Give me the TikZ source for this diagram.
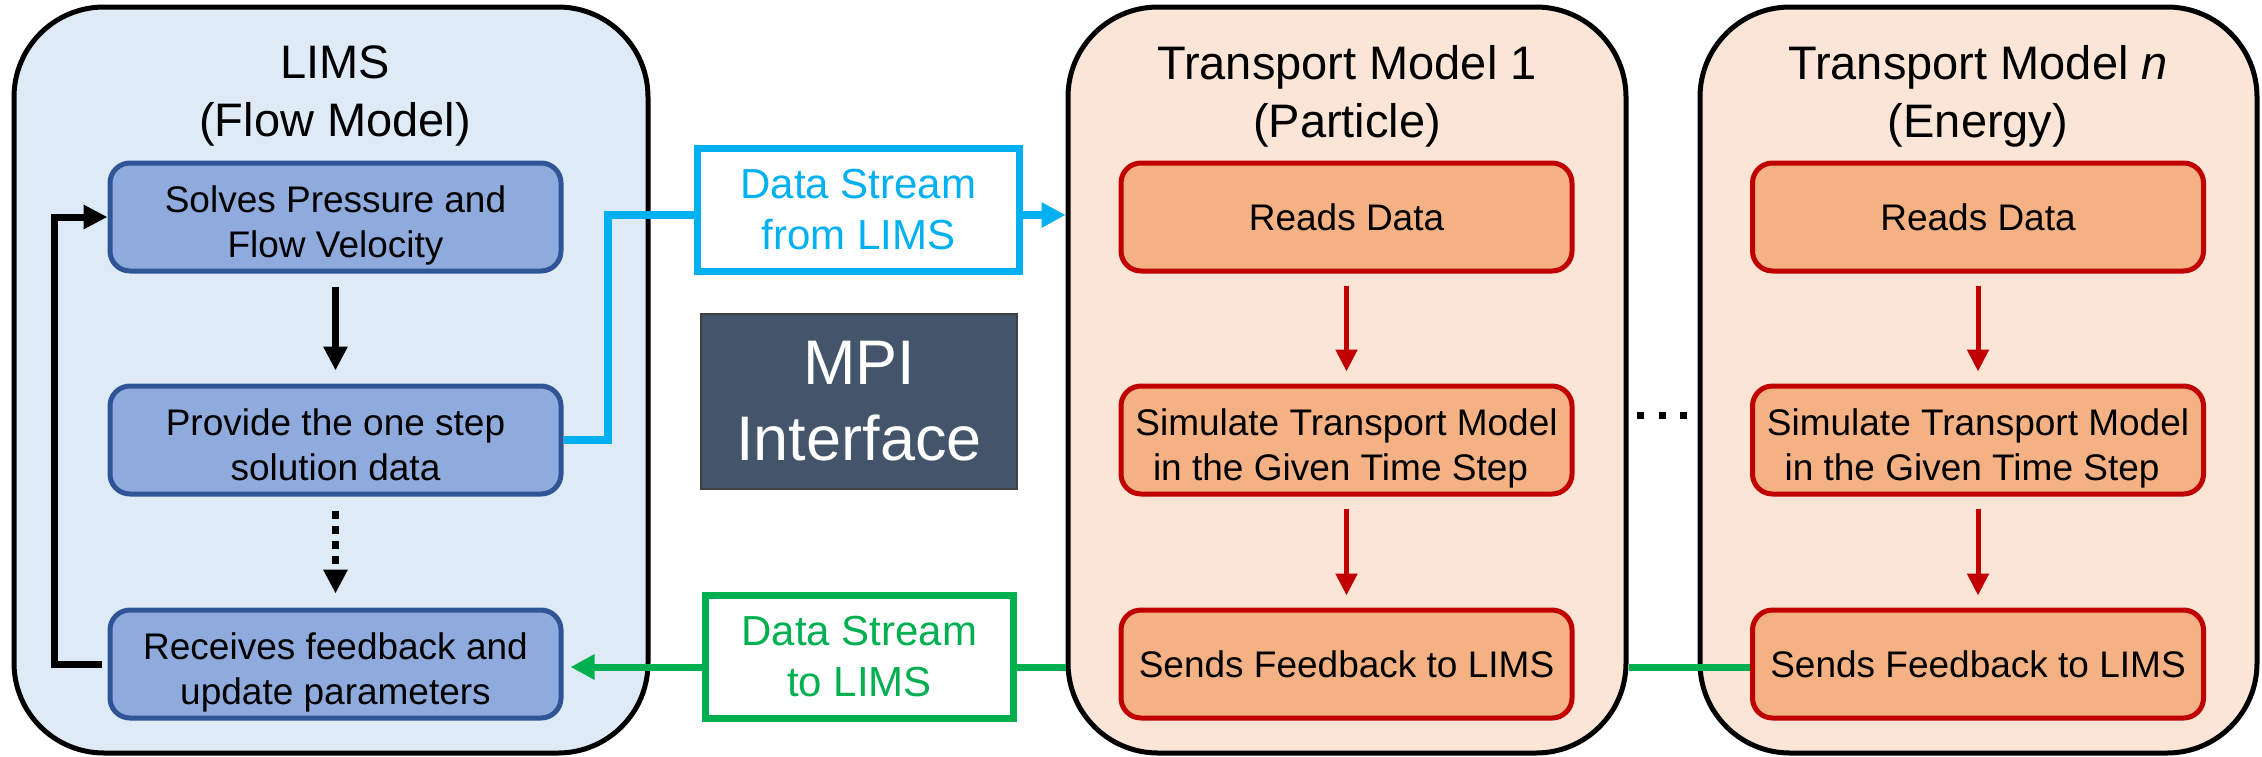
\documentclass[tikz,border=0pt]{standalone}
\usepackage{fontspec}
\setmainfont{Liberation Sans}
\usetikzlibrary{arrows.meta}
\definecolor{lbg}{HTML}{DEEBF7}
\definecolor{obg}{HTML}{FBE5D6}
\definecolor{bfill}{HTML}{8FAADC}
\definecolor{bdraw}{HTML}{2F5597}
\definecolor{ofill}{HTML}{F4B183}
\definecolor{rdraw}{HTML}{C00000}
\definecolor{cblue}{HTML}{00B0F0}
\definecolor{cgreen}{HTML}{00B050}
\definecolor{slate}{HTML}{44546A}
\newcommand{\bdfont}{\fontsize{37}{45}\selectfont}
\newcommand{\ttlfont}{\fontsize{47}{58}\selectfont}
\newcommand{\dsfont}{\fontsize{42}{51}\selectfont}
\newcommand{\mpifont}{\fontsize{63}{76}\selectfont}
\newcommand{\twoline}[2]{\rule{0pt}{43pt}#1\\#2\rule[-8pt]{0pt}{0pt}}
\begin{document}
\begin{tikzpicture}[x=1pt,y=-1pt,
  outerbox/.style={draw=black,line width=5pt,rounded corners=90pt,inner sep=0pt,minimum height=746pt},
  titlenode/.style={align=center,font=\ttlfont,inner sep=0pt},
  bluestep/.style={draw=bdraw,fill=bfill,line width=5pt,rounded corners=20pt,minimum width=451pt,minimum height=108pt,align=center,inner sep=0pt,font=\bdfont},
  redstep/.style={draw=rdraw,fill=ofill,line width=5pt,rounded corners=20pt,minimum width=451pt,minimum height=108pt,align=center,inner sep=0pt,font=\bdfont},
  dsbox/.style={fill=white,line width=7pt,minimum height=123pt,align=center,inner sep=0pt,font=\dsfont},
  blackarrow/.style={draw=black,line width=7pt,-{Triangle[length=24pt,width=23pt]}},
  redarrow/.style={draw=rdraw,line width=5pt,-{Triangle[length=22pt,width=21pt]}},
  blueline/.style={draw=cblue,line width=7.5pt},
  greenline/.style={draw=cgreen,line width=7pt}
]
\useasboundingbox (0,0) rectangle (2262,756);
\fill[white] (0,0) rectangle (2262,756);

% outer containers
\node[outerbox,fill=lbg,minimum width=634pt] (lims) at (331,380) {};
\node[outerbox,fill=obg,minimum width=558pt] (tm1) at (1347,380) {};
\node[outerbox,fill=obg,minimum width=557pt] (tmn) at (1978.5,380) {};

% titles
\node[titlenode] (limsT) at (335,96) {LIMS\\(Flow Model)};
\node[titlenode] (tm1T) at (1347,96) {Transport Model 1\\(Particle)};
\node[titlenode] (tmnT) at (1978,96) {Transport Model \textit{n}\\(Energy)};

% LIMS steps
\node[bluestep] (sol) at (335.5,217) {\twoline{Solves Pressure and}{Flow Velocity}};
\node[bluestep] (prov) at (335.5,440) {\twoline{Provide the one step}{solution data}};
\node[bluestep] (rec) at (335.5,664) {\twoline{Receives feedback and}{update parameters}};

% Transport model 1 steps
\node[redstep] (rd1) at (1346.5,217) {Reads Data};
\node[redstep] (sim1) at (1346.5,440) {\twoline{Simulate Transport Model}{in the Given Time Step\hspace*{12pt}}};
\node[redstep] (snd1) at (1346.5,664) {Sends Feedback to LIMS};

% Transport model n steps
\node[redstep] (rdn) at (1978,217) {Reads Data};
\node[redstep] (simn) at (1978,440) {\twoline{Simulate Transport Model}{in the Given Time Step\hspace*{12pt}}};
\node[redstep] (sndn) at (1978,664) {Sends Feedback to LIMS};

% data stream boxes
\node[dsbox,draw=cblue,text=cblue,minimum width=322pt] (dsf) at (858.5,210) {Data Stream\\from LIMS};
\node[dsbox,draw=cgreen,text=cgreen,minimum width=308pt] (dst) at (859.5,657) {Data Stream\\to LIMS};

% MPI box
\node[fill=slate,draw=black!75,line width=1.5pt,minimum width=316pt,minimum height=175pt,inner sep=0pt,text=white,font=\mpifont,align=center] (mpi) at (859,401.5) {MPI\\Interface};

% LIMS arrows
\draw[blackarrow,shorten <=13pt,shorten >=13pt] (sol) -- (prov);
\draw[blackarrow,dash pattern=on 8pt off 7pt,shorten <=14pt,shorten >=14pt] (prov) -- (rec);
\coordinate (fbx) at (54,440);
\draw[blackarrow,line width=7pt,shorten <=6pt] (rec.west) -| (fbx) |- (sol.west);

% transport model arrows
\draw[redarrow,shorten <=12pt,shorten >=12pt] (rd1) -- (sim1);
\draw[redarrow,shorten <=12pt,shorten >=12pt] (sim1) -- (snd1);
\draw[redarrow,shorten <=12pt,shorten >=12pt] (rdn) -- (simn);
\draw[redarrow,shorten <=12pt,shorten >=12pt] (simn) -- (sndn);

% blue data stream
\coordinate (bj) at (608,215);
\draw[blueline] (prov.east) -| (bj) -- (dsf.west |- bj);
\draw[blueline,-{Triangle[length=24pt,width=24pt]}] (dsf.east |- bj) -- (tm1.west |- bj);

% green data stream
\coordinate (gy) at (0,667);
\draw[greenline,-{Triangle[length=24pt,width=24pt]},shorten >=7pt] (dst.west |- gy) -- (rec.east |- gy);
\draw[greenline] (tm1.west |- gy) -- (dst.east |- gy);
\draw[greenline] (sndn.west |- gy) -- (tm1.east |- gy);

% dots between models
\fill[black] (1636.5,411.5) rectangle ++(7,7);
\fill[black] (1658.5,411.5) rectangle ++(7,7);
\fill[black] (1679.5,411.5) rectangle ++(7,7);
\end{tikzpicture}
\end{document}
